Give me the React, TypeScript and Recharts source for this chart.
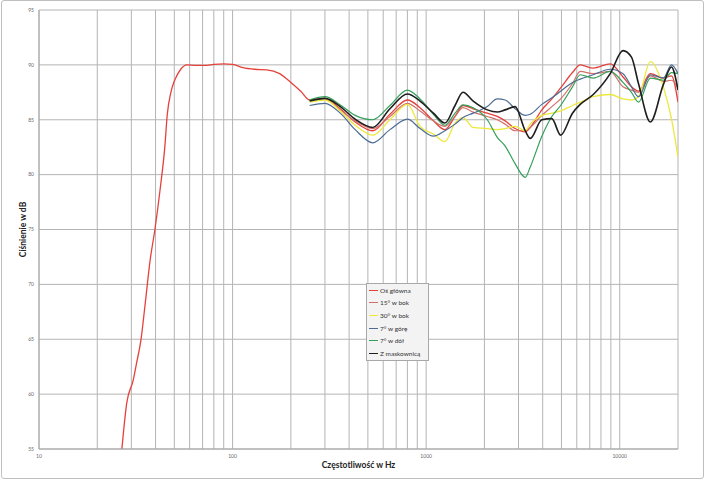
import React from 'react';
import { LineChart, Line, XAxis, YAxis, CartesianGrid, Legend } from 'recharts';

// low-frequency part of the main axis response (Hz / dB)
const mainLowFreq = [26.8, 28.4, 30.7, 31.9, 33.6, 35.4, 37.5, 39.7, 42.2, 44.7, 46, 48, 50.5, 54, 58, 65, 72, 80, 90, 100, 113, 130, 150, 175, 200, 225];
const mainLowDb = [55, 59.2, 61.3, 62.8, 64.9, 68.3, 72.2, 75.0, 78.6, 82.6, 85.5, 87.5, 88.7, 89.6, 90.0, 89.95, 89.95, 90.05, 90.1, 90.05, 89.75, 89.6, 89.55, 89.2, 88.4, 87.6];

// shared frequency grid for the measured curves
const hiFreq = [250, 300, 360, 430, 530, 650, 800, 930, 1090, 1250, 1410, 1550, 1750, 2070, 2330, 2560, 2880, 3250, 3450, 3960, 4460, 4950, 5700, 6250, 7300, 8930, 10400, 11500, 12500, 14400, 16800, 18500, 20000];

const osGlownaDb = [86.8, 86.95, 86.0, 84.8, 84.0, 85.5, 86.8, 86.1, 84.9, 84.1, 85.3, 86.3, 86.0, 85.6, 85.3, 84.9, 84.2, 83.9, 84.3, 85.9, 86.9, 87.9, 89.3, 90.0, 89.7, 90.1, 88.9, 88.0, 87.6, 89.2, 88.8, 89.0, 86.6];
const bok15Db = [86.8, 86.9, 85.9, 84.9, 84.2, 85.3, 86.5, 85.8, 84.9, 84.4, 85.3, 86.1, 85.7, 85.3, 85.0, 84.6, 84.0, 84.0, 84.3, 85.4, 86.2, 86.9, 88.3, 89.4, 89.2, 89.4, 88.0, 87.7, 87.5, 89.0, 88.5, 88.6, 87.9];
const bok30Db = [86.6, 86.8, 85.8, 84.5, 83.6, 85.0, 86.4, 84.4, 83.7, 83.0, 84.7, 85.2, 84.3, 84.2, 84.1, 84.2, 84.4, 84.0, 84.6, 85.4, 85.6, 85.8, 86.3, 86.6, 87.1, 87.3, 86.9, 86.8, 87.1, 90.3, 88.0, 85.1, 81.6];
const goraDb = [86.3, 86.5, 85.6, 84.1, 82.9, 84.1, 85.05, 84.2, 83.5, 84.0, 84.6, 85.2, 85.6, 86.2, 86.9, 86.8, 86.0, 85.4, 85.5, 86.4, 87.0, 87.6, 88.4, 88.7, 89.1, 89.6, 89.2, 88.0, 87.1, 89.1, 88.8, 90.0, 89.2];
const dolDb = [86.8, 87.1, 86.35, 85.4, 85.0, 86.3, 87.7, 86.9, 85.5, 84.5, 85.6, 86.35, 86.1, 85.0, 83.4, 82.6, 81.0, 79.75, 80.7, 83.5, 85.3, 86.3, 88.0, 89.1, 88.8, 89.4, 88.4, 87.5, 86.6, 88.8, 88.6, 89.3, 89.2];
const maskownicaDb = [86.7, 86.95, 86.2, 85.05, 84.3, 86.0, 87.35, 86.7, 85.6, 84.7, 86.3, 87.5, 86.7, 85.9, 85.7, 85.9, 86.2, 84.0, 83.3, 85.0, 85.1, 83.6, 85.6, 86.4, 87.3, 89.2, 91.3, 90.7, 88.3, 84.8, 88.2, 89.8, 87.7];

const xTicks = [10, 20, 30, 40, 50, 60, 70, 80, 90, 100, 200, 300, 400, 500, 600, 700, 800, 900, 1000, 2000, 3000, 4000, 5000, 6000, 7000, 8000, 9000, 10000, 20000];
const xLabels = [10, 100, 1000, 10000];
const yTicks = [55, 60, 65, 70, 75, 80, 85, 90, 95];

const toPoints = (fs: number[], ds: number[]) => fs.map((f, i) => ({ f, db: ds[i] }));

const series = [
  { name: 'Oś główna', color: '#e5413b', width: 1.3, data: toPoints([...mainLowFreq, ...hiFreq], [...mainLowDb, ...osGlownaDb]) },
  { name: '15° w bok', color: '#d0706a', width: 1.2, data: toPoints(hiFreq, bok15Db) },
  { name: '30° w bok', color: '#ede83c', width: 1.3, data: toPoints(hiFreq, bok30Db) },
  { name: '7° w górę', color: '#4d6c94', width: 1.2, data: toPoints(hiFreq, goraDb) },
  { name: '7° w dół', color: '#35a05a', width: 1.2, data: toPoints(hiFreq, dolDb) },
  { name: 'Z maskownicą', color: '#1e1e1e', width: 1.6, data: toPoints(hiFreq, maskownicaDb) },
];

const font = 'Lato, "Liberation Sans", sans-serif';

const renderLegend = () => (
  <div
    style={{
      background: '#f3f3f3',
      border: '1px solid #a8a8a8',
      padding: '0 2px',
      fontFamily: font,
      fontSize: 6.5,
      color: '#333',
      textAlign: 'left',
      width: 63,
      boxSizing: 'border-box',
    }}
  >
    {series.map((s) => (
      <div
        key={s.name}
        style={{ display: 'flex', justifyContent: 'flex-start', alignItems: 'center', height: 12.6, whiteSpace: 'nowrap' }}
      >
        <span style={{ display: 'inline-block', flexShrink: 0, width: 9, height: 1, background: s.color, marginRight: 2 }} />
        <span>{s.name}</span>
      </div>
    ))}
  </div>
);

export default function App() {
  return (
    <div style={{ position: 'absolute', left: 0, top: 0, width: 705, height: 480, background: '#fff' }}>
      <LineChart width={705} height={480} margin={{ top: 10, right: 27, bottom: 11, left: 9 }}>
        <CartesianGrid stroke="#b4b4b4" strokeWidth={1} />
        <XAxis
          dataKey="f"
          type="number"
          scale="log"
          domain={[10, 20000]}
          allowDataOverflow
          ticks={xTicks}
          interval={0}
          tickFormatter={(v: number) => (xLabels.includes(v) ? String(v) : '')}
          height={20}
          tickLine={false}
          tickSize={0}
          tickMargin={5}
          axisLine={{ stroke: '#a8a8a8' }}
          tick={{ fontSize: 5, fill: '#6a6a6a', fontFamily: font }}
          label={{ value: 'Częstotliwość w Hz', position: 'insideBottom', offset: 1, style: { fontSize: 8.5, fontWeight: 700, fill: '#222', fontFamily: font } }}
        />
        <YAxis
          type="number"
          domain={[55, 95]}
          ticks={yTicks}
          interval={0}
          width={30}
          tickLine={false}
          tickSize={0}
          tickMargin={5}
          axisLine={{ stroke: '#a8a8a8' }}
          tick={{ fontSize: 5, fill: '#6a6a6a', fontFamily: font }}
          label={{ value: 'Ciśnienie w dB', angle: -90, position: 'insideLeft', offset: 14, style: { textAnchor: 'middle', fontSize: 8.5, fontWeight: 700, fill: '#222', fontFamily: font } }}
        />
        <Legend
          layout="vertical"
          align="center"
          verticalAlign="middle"
          content={renderLegend}
          wrapperStyle={{ left: 366, top: 283, width: 63 }}
        />
        {series.map((s) => (
          <Line
            key={s.name}
            data={s.data}
            dataKey="db"
            name={s.name}
            type="monotone"
            stroke={s.color}
            strokeWidth={s.width}
            dot={false}
            isAnimationActive={false}
          />
        ))}
      </LineChart>
      <div
        style={{
          position: 'absolute',
          left: 1,
          top: 0,
          width: 701,
          height: 477,
          border: '1px solid #bfbfbf',
          borderRadius: 3,
          pointerEvents: 'none',
        }}
      />
    </div>
  );
}
